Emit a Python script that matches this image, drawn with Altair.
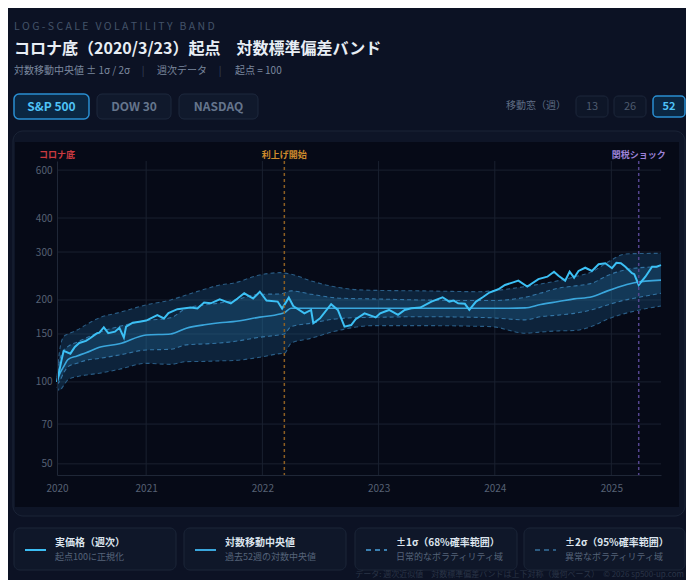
import altair as alt
import pandas as pd

FONT = "Noto Sans CJK JP"
BG = "#0c1224"

# ---------------- data ----------------
base_date = "2020-03-27"  # first weekly close after the 2020/3/23 bottom

price_weeks = [0, 2, 3, 6, 8, 10, 13, 15, 18, 19, 21, 23, 26, 28, 30, 31, 34, 37, 40, 45,
               48, 50, 54, 60, 63, 66, 69, 73, 78, 81, 84, 88, 91, 94, 99, 101, 104, 106, 111, 114,
               115, 118, 123, 126, 129, 132, 134, 138, 143, 145, 149, 153, 156, 159, 163, 168, 173, 176, 178, 180,
               183, 185, 188, 191, 194, 198, 201, 205, 207, 211, 216, 220, 223, 225, 228, 230, 232, 234, 237, 240,
               243, 246, 249, 251, 253, 255, 258, 259, 261, 264, 267, 269, 271]
price_values = [100, 120, 130, 127, 134.5, 139, 141.5, 145, 151, 151.7, 158.7, 151, 153, 158, 145.5, 159.6, 165, 166.5, 168, 176,
                171, 179, 185, 187.5, 186, 195.6, 194.4, 201, 194.4, 202.4, 211.6, 202.4, 214.5, 199, 197.3, 186, 204, 190, 178.6, 183.8,
                164.3, 171.3, 193, 183.8, 159.6, 161.8, 170, 178.6, 172.6, 178.6, 183.8, 176.3, 183.8, 186.4, 187.5, 197.3, 204.6, 197.3, 199, 194.4,
                193.6, 183.8, 197.3, 204.6, 213, 219, 227, 232.5, 235.5, 224, 238.6, 243.5, 254, 245.6, 235.5, 254, 241.5, 255.6, 262.7, 255.6,
                270.7, 273, 261.6, 274, 273, 265, 251, 248.8, 227, 243.5, 265, 265, 268.7]

band_weeks = [0, 1, 3, 5, 9, 13, 19, 28, 40, 51, 58, 67, 73, 79, 91, 100, 102, 105, 114, 124,
              132, 142, 163, 190, 195, 210, 217, 225, 232, 240, 247, 255, 259, 271]
median_vals = [100, 106, 113.8, 121, 124.6, 128, 134, 138, 148.8, 150, 157.5, 162.5, 165, 166.5, 173, 177.5, 179.6, 186.4, 186.4, 186.4,
               186.4, 186.4, 186.4, 186.4, 186.4, 187, 192.5, 197.3, 201.8, 205.6, 216, 227, 231.5, 236.6]
upper1_vals = [102, 118, 130, 135, 140, 145, 152, 160, 168, 172, 186.4, 192, 195, 199, 209.8, 210.4, 212, 216, 210, 204,
               202.4, 201.8, 200, 199, 199, 204.6, 212, 221, 225, 230.5, 246, 258, 261.6, 265]
lower1_vals = [98, 100, 108, 113.8, 117, 120, 122, 125.6, 131, 131.8, 136.8, 138, 139, 140.6, 145.9, 149, 150, 159.6, 164.3, 170,
               172, 172.6, 173.6, 172.5, 172, 169, 173.6, 176, 178.6, 184, 191.8, 200, 203, 211.6]
upper2_vals = [104, 127, 146.7, 150, 155, 162, 172, 180, 191.8, 200, 208.6, 220, 227, 230.5, 247, 252, 251, 248.8, 235, 224,
               219, 217, 216, 214.5, 216, 224, 229, 235.5, 243, 254, 275, 295, 296, 296.7]
lower2_vals = [96, 93, 97, 102, 104.6, 106, 107.6, 111.3, 117, 116, 118.7, 119, 119.5, 119.8, 123.2, 127, 127.4, 138.7, 144.7, 153,
               158, 161, 161, 160, 159.6, 151, 152.5, 154, 154.4, 160, 170, 178.6, 182, 190]

y_ticks = [50, 70, 100, 150, 200, 300, 400, 600]
year_ticks = ["2021-01-01", "2022-01-01", "2023-01-01", "2024-01-01", "2025-01-01"]

event_dates = ["2020-03-27", "2022-03-11", "2025-03-28"]
event_labels = ["コロナ底", "利上げ開始", "関税ショック"]
event_line_colors = ["#b8323a", "#8c5e22", "#54458f"]
event_text_colors = ["#c93a40", "#cf8a2c", "#9c82d8"]
event_has_line = [False, True, True]

tabs = ["S&P 500", "DOW 30", "NASDAQ"]
windows = ["13", "26", "52"]

legend_titles = ["実価格（週次）", "対数移動中央値", "±1σ（68%確率範囲）", "±2σ（95%確率範囲）"]
legend_subs = ["起点100に正規化", "過去52週の対数中央値", "日常的なボラティリティ域", "異常なボラティリティ域"]

# ---------------- tables ----------------
base = pd.Timestamp(base_date)
def wk_dates(weeks):
    return [(base + pd.Timedelta(days=7 * w)).strftime("%Y-%m-%d") for w in weeks]

price_df = pd.DataFrame({"date": wk_dates(price_weeks), "price": price_values})
band_df = pd.DataFrame({"date": wk_dates(band_weeks), "median": median_vals,
                        "u1": upper1_vals, "l1": lower1_vals, "u2": upper2_vals, "l2": lower2_vals})
events_df = pd.DataFrame({"date": event_dates, "label": event_labels,
                          "lc": event_line_colors, "tc": event_text_colors, "line": event_has_line})
ygrid_df = pd.DataFrame({"v": y_ticks})
xgrid_df = pd.DataFrame({"date": year_ticks})

start = pd.Timestamp(price_df["date"].iloc[0])
end = pd.Timestamp(price_df["date"].iloc[-1])
def dt(t):
    return alt.DateTime(year=t.year, month=t.month, date=t.day)

xscale = alt.Scale(domain=[dt(start), dt(end)])
yscale = alt.Scale(type="log", domain=[45.5, 648], nice=False)

AX_COL = "#1f2737"
LBL_COL = "#566174"
xaxis = alt.Axis(values=[dt(start)] + [dt(pd.Timestamp(d)) for d in year_ticks], format="%Y",
                 grid=False, ticks=False, domainColor=AX_COL, labelColor=LBL_COL, labelFont=FONT,
                 labelFontSize=10, labelPadding=8, labelFlush=False, title=None, zindex=1)
yaxis = alt.Axis(values=y_ticks, format="d", grid=False, ticks=False, domainColor=AX_COL,
                 labelColor=LBL_COL, labelFont=FONT, labelFontSize=10, labelPadding=5, title=None, zindex=1)

def X(field="date"):
    return alt.X(f"{field}:T", scale=xscale, axis=xaxis)
def Y(field):
    return alt.Y(f"{field}:Q", scale=yscale, axis=yaxis)

# ---------------- page decoration helpers (page pixel -> plot pixel) ----------------
OX, OY = 57, 161
one = alt.Data(values=[{"k": 1}])

def rect(x1, y1, x2, y2, fill, stroke=None, r=0, sw=1):
    kw = dict(fill=fill, cornerRadius=r)
    if stroke:
        kw.update(stroke=stroke, strokeWidth=sw)
    return alt.Chart(one).mark_rect(**kw).encode(
        x=alt.value(x1 - OX), x2=alt.value(x2 - OX), y=alt.value(y1 - OY), y2=alt.value(y2 - OY))

def text(x, y, s, size, color, weight="normal", align="left"):
    return alt.Chart(one).mark_text(text=s, font=FONT, fontSize=size, color=color, fontWeight=weight,
                                    align=align, baseline="middle").encode(
        x=alt.value(x - OX), y=alt.value(y - OY))

def hline(x1, x2, y, color, dash=None, sw=2):
    kw = dict(color=color, strokeWidth=sw)
    if dash:
        kw["strokeDash"] = dash
    return alt.Chart(one).mark_rule(**kw).encode(
        x=alt.value(x1 - OX), x2=alt.value(x2 - OX), y=alt.value(y - OY))

NB = "\u00a0"
kicker = (NB * 3).join(NB.join(list(w)) for w in ["LOG-SCALE", "VOLATILITY", "BAND"])

layers = []
# header
layers.append(text(14, 27, kicker, 10.5, "#435269"))
layers.append(text(14, 49, "コロナ底（2020/3/23）起点　対数標準偏差バンド", 16, "#e8eef5", "bold"))
sub_col = "#7b889e"
layers.append(text(14, 71, "対数移動中央値 ± 1σ / 2σ", 10, sub_col))
layers.append(text(143, 71, "|", 10, "#38445a", align="center"))
layers.append(text(157, 71, "週次データ", 10, sub_col))
layers.append(text(220, 71, "|", 10, "#38445a", align="center"))
layers.append(text(235, 71, "起点 = 100", 10, sub_col))

# index tabs
tab_boxes = [(14, 89), (97, 171), (179, 258)]
for i, (a, b) in enumerate(tab_boxes):
    sel = i == 0
    layers.append(rect(a, 94, b, 119, "#0b2742" if sel else "#10192c",
                       "#2a8ed1" if sel else "#1d283d", r=5, sw=1.5 if sel else 1))
    layers.append(text((a + b) / 2, 106.5, tabs[i], 12, "#4fc3f7" if sel else "#65758c",
                       "bold" if sel else 600, "center"))

# window selector
layers.append(text(566, 106, "移動窓（週）", 10, "#5f6d83", align="right"))
win_boxes = [(576, 608), (614, 646), (653, 685)]
for i, (a, b) in enumerate(win_boxes):
    sel = i == 2
    layers.append(rect(a, 96, b, 117, "#0b2742" if sel else "#0e1628",
                       "#2a8ed1" if sel else "#1c263a", r=4, sw=1.5 if sel else 1))
    layers.append(text((a + b) / 2, 106.5, windows[i], 11, "#4fc3f7" if sel else "#4d5a6e",
                       "bold" if sel else "normal", "center"))

# chart card
layers.append(rect(13, 131, 685, 516, "#0e1527", "#1b2437", r=10))
layers.append(rect(15, 142, 679, 507, "#060a17"))

# legend cards
card_boxes = [(14, 176), (184, 346), (355, 517), (524, 685)]
sample_styles = [("#3cbdf3", None), ("#3aa6dc", None), ("#3a7fb0", [5, 4]), ("#2c5a80", [5, 4])]
for i, (a, b) in enumerate(card_boxes):
    layers.append(rect(a, 528, b, 570, "#0f1729", "#1c2639", r=6))
    col, dash = sample_styles[i]
    layers.append(hline(a + 11, a + 32, 550, col, dash, 2))
    layers.append(text(a + 41, 543, legend_titles[i], 10, "#dde5ee", "bold"))
    layers.append(text(a + 41, 557, legend_subs[i], 9, "#56647a"))

layers.append(text(684, 575, "データ: 週次近似値　対数標準偏差バンドは上下対称（幾何ベース）　© 2026 sp500-up.com",
                   8, "#2a3447", align="right"))

# ---------------- plot layers ----------------
GRID = "#1a2130"
layers.append(alt.Chart(ygrid_df).mark_rule(color=GRID, strokeWidth=1).encode(y=Y("v")))
layers.append(alt.Chart(xgrid_df).mark_rule(color=GRID, strokeWidth=1).encode(x=X()))

bands = alt.Chart(band_df)
layers.append(bands.mark_area(color="#1f5f90", opacity=0.3, interpolate="monotone").encode(
    x=X(), y=Y("u2"), y2="l2"))
layers.append(bands.mark_area(color="#2878aa", opacity=0.26, interpolate="monotone").encode(
    x=X(), y=Y("u1"), y2="l1"))
for f, col in [("u2", "#2a5d86"), ("l2", "#2a5d86"), ("u1", "#3374a4"), ("l1", "#3374a4")]:
    layers.append(bands.mark_line(color=col, strokeWidth=1.1, strokeDash=[4, 3], interpolate="monotone").encode(
        x=X(), y=Y(f)))
layers.append(bands.mark_line(color="#3aa6dc", strokeWidth=1.6, interpolate="monotone").encode(
    x=X(), y=Y("median")))
layers.append(alt.Chart(price_df).mark_line(color="#3cc0f5", strokeWidth=2).encode(
    x=X(), y=Y("price")))

ev = alt.Chart(events_df)
layers.append(ev.transform_filter("datum.line").mark_rule(strokeDash=[3, 3], strokeWidth=1.5).encode(
    x=X(), color=alt.Color("lc:N", scale=None)))
layers.append(ev.mark_text(font=FONT, fontSize=9, fontWeight="bold", baseline="middle").encode(
    x=X(), y=alt.value(155 - OY), text="label:N", color=alt.Color("tc:N", scale=None)))

chart = alt.layer(*layers).properties(
    width=604, height=314,
    padding={"left": 49, "top": 153, "right": 25, "bottom": 105},
    autosize=alt.AutoSizeParams(type="none"),
    background=BG,
).configure_view(stroke=GRID, strokeWidth=1)

chart.save("out.html", embed_options={"renderer": "svg", "actions": False})
